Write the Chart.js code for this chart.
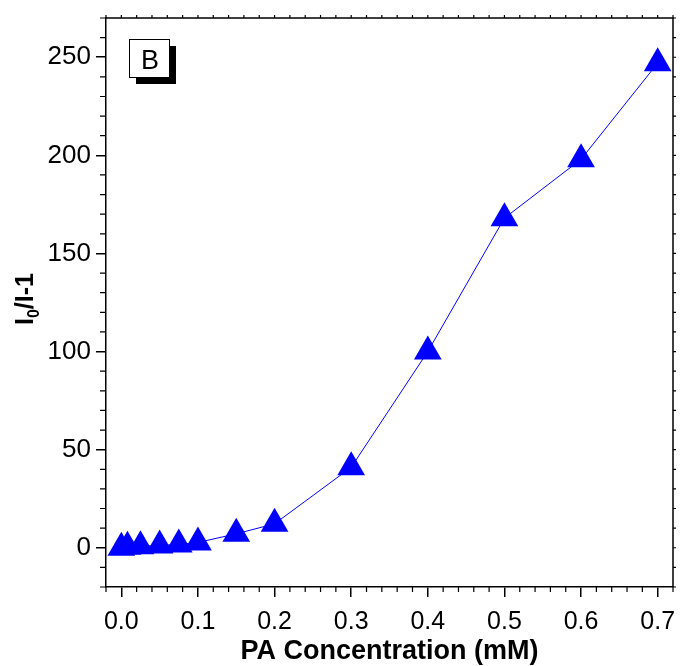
<!DOCTYPE html>
<html>
<head>
<meta charset="utf-8">
<script src="https://cdn.jsdelivr.net/npm/chart.js@4.4.0/dist/chart.umd.min.js"></script>
<style>
    html, body { margin: 0; padding: 0; background: #fff; }
    #wrap { width: 689px; height: 666px; }
</style>
</head>
<body>
<div id="wrap"><canvas id="chart" width="689" height="666"></canvas></div>
<script>
// data
const concentration = [0, 0.008, 0.025, 0.05, 0.075, 0.1, 0.15, 0.2, 0.3, 0.4, 0.5, 0.6, 0.7];
const quenching = [0, 0.5, 0.8, 1.2, 1.7, 2.7, 7.1, 12.2, 41, 100, 168, 198, 247];

const xTicks = [0, 0.1, 0.2, 0.3, 0.4, 0.5, 0.6, 0.7];
const xTickLabels = ['0.0', '0.1', '0.2', '0.3', '0.4', '0.5', '0.6', '0.7'];
const yTicks = [0, 50, 100, 150, 200, 250];
const yTickLabels = ['0', '50', '100', '150', '200', '250'];

const FONT = '"Liberation Sans", Arial, sans-serif';

// frame, minor ticks, titles and the "B" panel label
const decorations = {
    id: 'decorations',
    afterDraw(chart) {
        const ctx = chart.ctx;
        const area = chart.chartArea;
        const xs = chart.scales.x;
        const ys = chart.scales.y;

        ctx.save();
        ctx.strokeStyle = '#000';
        ctx.lineWidth = 1.5;

        // top and right axis lines
        ctx.beginPath();
        ctx.moveTo(area.left, area.top);
        ctx.lineTo(area.right, area.top);
        ctx.lineTo(area.right, area.bottom);
        ctx.stroke();

        ctx.lineWidth = 1.2;
        ctx.beginPath();
        // x minor ticks every 0.02, small ticks on top axis
        for (let i = -1; i <= 36; i++) {
            const v = i * 0.02;
            const px = xs.getPixelForValue(v);
            if (px < area.left - 0.5 || px > area.right + 0.5) continue;
            if (i % 5 !== 0) {
                ctx.moveTo(px, area.bottom);
                ctx.lineTo(px, area.bottom + 5);
            }
            ctx.moveTo(px, area.top);
            ctx.lineTo(px, area.top - 3);
        }
        // y minor ticks every 10, small ticks on right axis
        for (let v = -20; v <= 270; v += 10) {
            const py = ys.getPixelForValue(v);
            if (v % 50 !== 0) {
                ctx.moveTo(area.left, py);
                ctx.lineTo(area.left - 6, py);
            }
            ctx.moveTo(area.right, py);
            ctx.lineTo(area.right + 3, py);
        }
        ctx.stroke();

        ctx.fillStyle = '#000';

        // x axis title
        ctx.font = 'bold 27px ' + FONT;
        ctx.textAlign = 'center';
        ctx.textBaseline = 'alphabetic';
        ctx.fillText('PA Concentration (mM)', (area.left + area.right) / 2, 659);

        // y axis title with subscript
        ctx.save();
        ctx.translate(33, 299);
        ctx.rotate(-Math.PI / 2);
        const big = 'bold 25px ' + FONT;
        const small = 'bold 16px ' + FONT;
        ctx.font = big;
        const wI = ctx.measureText('I').width;
        const wRest = ctx.measureText('/I-1').width;
        ctx.font = small;
        const w0 = ctx.measureText('0').width;
        let x = -(wI + w0 + wRest) / 2;
        ctx.textAlign = 'left';
        ctx.font = big;
        ctx.fillText('I', x, 0);
        x += wI;
        ctx.font = small;
        ctx.fillText('0', x, 6);
        x += w0;
        ctx.font = big;
        ctx.fillText('/I-1', x, 0);
        ctx.restore();

        // panel label "B"
        ctx.fillStyle = '#000';
        ctx.fillRect(136, 46, 40, 38);
        ctx.fillStyle = '#fff';
        ctx.fillRect(129, 39, 40, 39);
        ctx.strokeStyle = '#000';
        ctx.lineWidth = 1;
        ctx.strokeRect(129.5, 39.5, 40, 38);
        ctx.fillStyle = '#000';
        ctx.font = '27px ' + FONT;
        ctx.textAlign = 'center';
        ctx.textBaseline = 'alphabetic';
        ctx.fillText('B', 150, 69);

        ctx.restore();
    }
};

const ctx = document.getElementById('chart').getContext('2d');
new Chart(ctx, {
    type: 'scatter',
    data: {
        datasets: [{
            data: concentration.map((c, i) => ({ x: c, y: quenching[i] })),
            showLine: true,
            borderColor: '#0000ff',
            borderWidth: 1,
            pointStyle: 'triangle',
            pointRadius: 16,
            pointHoverRadius: 16,
            pointBackgroundColor: '#0000ff',
            pointBorderWidth: 0,
            clip: false
        }]
    },
    options: {
        responsive: false,
        animation: false,
        devicePixelRatio: 1,
        layout: { padding: { top: 15, right: 15, left: 0, bottom: 0 } },
        plugins: {
            legend: { display: false },
            tooltip: { enabled: false }
        },
        scales: {
            x: {
                type: 'linear',
                min: -0.02,
                max: 0.72,
                afterBuildTicks: (scale) => { scale.ticks = xTicks.map(v => ({ value: v })); },
                afterFit: (scale) => { scale.height = 79; },
                grid: { drawOnChartArea: false, drawTicks: true, tickLength: 10, color: '#000', lineWidth: 1.5 },
                border: { display: true, color: '#000', width: 1.5 },
                ticks: {
                    color: '#000',
                    font: { family: FONT, size: 25, lineHeight: 1 },
                    padding: 13,
                    maxRotation: 0,
                    autoSkip: false,
                    callback: (v, i) => xTickLabels[i]
                }
            },
            y: {
                type: 'linear',
                min: -20,
                max: 270,
                afterBuildTicks: (scale) => { scale.ticks = yTicks.map(v => ({ value: v })); },
                afterFit: (scale) => { scale.width = 106; },
                grid: { drawOnChartArea: false, drawTicks: true, tickLength: 10, color: '#000', lineWidth: 1.5 },
                border: { display: true, color: '#000', width: 1.5 },
                ticks: {
                    color: '#000',
                    font: { family: FONT, size: 26, lineHeight: 1 },
                    padding: 5,
                    autoSkip: false,
                    callback: (v, i) => yTickLabels[i]
                }
            }
        }
    },
    plugins: [decorations]
});
</script>
</body>
</html>
